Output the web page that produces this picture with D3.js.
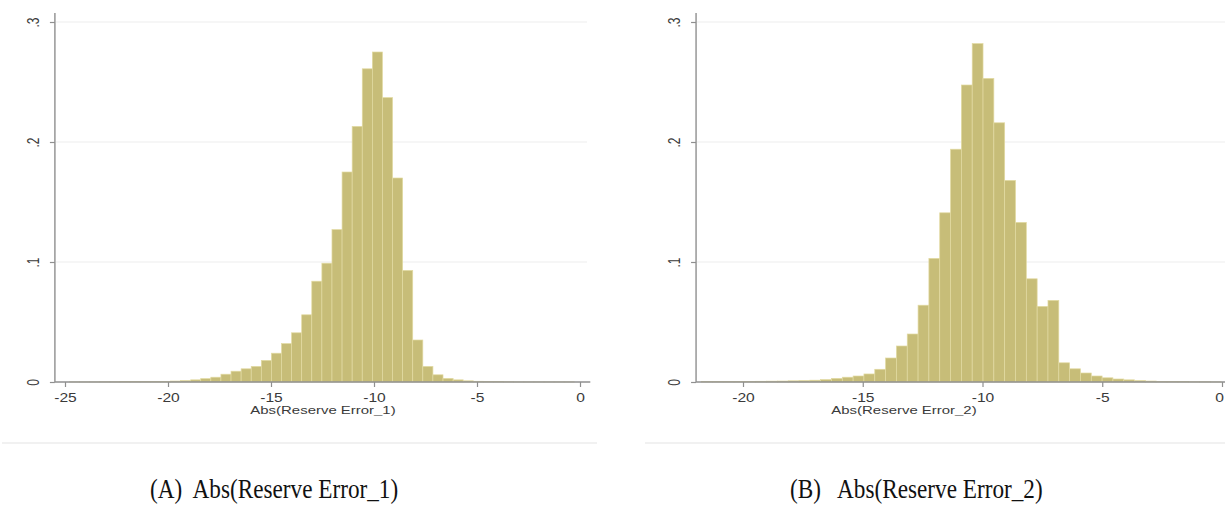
<!DOCTYPE html>
<html>
<head>
<meta charset="utf-8">
<script src="https://cdn.jsdelivr.net/npm/d3@7"></script>
<style>
  html, body { margin: 0; padding: 0; background: #ffffff; }
  svg { display: block; }
</style>
</head>
<body>
<svg id="chart" width="1225" height="514"></svg>
<script>
// ---------------- DATA ----------------
// Panel A: histogram of Abs(Reserve Error_1) — density per bin
const binStart1 = -24.78;
const binWidth1 = 0.49;
const density1 = [
  0.0001, 0.0001, 0.0001, 0.0002, 0.0002, 0.0003, 0.0003, 0.0004, 0.0005, 0.0005,
  0.0008, 0.0012, 0.0018, 0.0028, 0.0040, 0.0065, 0.0090, 0.0110, 0.0130, 0.0180,
  0.0240, 0.0320, 0.0410, 0.0560, 0.0840, 0.0990, 0.1270, 0.1750, 0.2130, 0.2610,
  0.2750, 0.2370, 0.1700, 0.0930, 0.0350, 0.0130, 0.0060, 0.0030, 0.0018, 0.0010,
  0.0006, 0.0004, 0.0003, 0.0002, 0.0001, 0.0001, 0.0001, 0.0001, 0.0001, 0.0001
];
// Panel B: histogram of Abs(Reserve Error_2) — density per bin
const binStart2 = -21.73;
const binWidth2 = 0.452;
const density2 = [
  0.0005, 0.0005, 0.0005, 0.0005, 0.0005, 0.0006, 0.0007, 0.0008, 0.0010, 0.0012,
  0.0015, 0.0020, 0.0030, 0.0040, 0.0050, 0.0067, 0.0106, 0.0200, 0.0300, 0.0400,
  0.0640, 0.1030, 0.1410, 0.1940, 0.2475, 0.2820, 0.2530, 0.2160, 0.1680, 0.1330,
  0.0860, 0.0630, 0.0680, 0.0160, 0.0110, 0.0075, 0.0050, 0.0035, 0.0025, 0.0018,
  0.0012, 0.0008, 0.0005, 0.0004, 0.0003, 0.0002, 0.0002, 0.0001
];
const yTicks = [0, 0.1, 0.2, 0.3];
const yTickLabels = ["0", ".1", ".2", ".3"];
const xTicks1 = [-25, -20, -15, -10, -5, 0];
const xTicks2 = [-20, -15, -10, -5, 0];
const xTitle1 = "Abs(Reserve Error_1)";
const xTitle2 = "Abs(Reserve Error_2)";
const caption1 = "(A)  Abs(Reserve Error_1)";
const caption2 = "(B)   Abs(Reserve Error_2)";

// ---------------- DRAW ----------------
const svg = d3.select("#chart");
const barFill = "#c7bd78";
const barStroke = "#e2daa2";
const axisColor = "#8f8f8f";
const textColor = "#3a3a3a";
const stretch = 1.3;

function panel(cfg) {
  const x = d3.scaleLinear().domain(cfg.xDomain).range(cfg.xRange);
  const y = d3.scaleLinear().domain([0, 0.3]).range([382, 22]);
  const g = svg.append("g");

  // grid lines
  g.append("g").selectAll("line").data(yTicks.slice(1)).join("line")
    .attr("x1", x(cfg.axisFrom) + 1).attr("x2", cfg.gridEnd)
    .attr("y1", d => y(d)).attr("y2", d => y(d))
    .attr("stroke", "#ededed").attr("stroke-width", 1);

  // bars
  const bins = cfg.density.map((d, i) => ({
    x0: cfg.binStart + i * cfg.binWidth,
    x1: cfg.binStart + (i + 1) * cfg.binWidth,
    v: d
  }));
  g.append("g").selectAll("rect").data(bins).join("rect")
    .attr("x", d => x(d.x0))
    .attr("width", d => x(d.x1) - x(d.x0))
    .attr("y", d => y(d.v))
    .attr("height", d => y(0) - y(d.v))
    .attr("fill", barFill)
    .attr("stroke", barStroke)
    .attr("stroke-width", 0.7);

  // x axis
  const xa = g.append("g").attr("transform", `translate(0,${y(0)})`)
    .call(d3.axisBottom(x).tickValues(cfg.xTicks).tickSize(5).tickSizeOuter(0)
      .tickFormat(d => String(d)));
  xa.select(".domain").remove();
  xa.append("line").attr("x1", x(cfg.axisFrom)).attr("x2", x(cfg.axisTo))
    .attr("stroke", axisColor).attr("stroke-width", 1.4);
  xa.selectAll(".tick line").attr("stroke", axisColor).attr("stroke-width", 1.2);
  xa.selectAll(".tick text")
    .attr("y", 0).attr("dy", 0)
    .attr("transform", d => `translate(${cfg.clipLast && d === 0 ? -3 : 0},20) scale(${stretch},1)`)
    .attr("fill", textColor)
    .style("font-family", "'Liberation Sans', Arial, sans-serif")
    .style("font-size", "12px");

  // y axis
  const ya = g.append("g").attr("transform", `translate(${x(cfg.axisFrom)},0)`)
    .call(d3.axisLeft(y).tickValues(yTicks).tickSize(5).tickSizeOuter(0)
      .tickFormat((d, i) => yTickLabels[i]));
  ya.select(".domain").remove();
  ya.append("line").attr("y1", y(0)).attr("y2", y(0.3075))
    .attr("stroke", axisColor).attr("stroke-width", 1.4);
  ya.selectAll(".tick line").attr("stroke", axisColor).attr("stroke-width", 1.2);
  ya.selectAll(".tick text")
    .attr("x", 0).attr("dy", 0).attr("y", 0)
    .attr("text-anchor", "middle")
    .attr("transform", `translate(-16,0) scale(${stretch},1) rotate(-90)`)
    .attr("fill", textColor)
    .style("font-family", "'Liberation Sans', Arial, sans-serif")
    .style("font-size", "12px");

  // axis title
  g.append("text")
    .attr("transform", `translate(${cfg.titleX},414) scale(${stretch},1)`)
    .attr("text-anchor", "middle")
    .attr("fill", textColor)
    .style("font-family", "'Liberation Sans', Arial, sans-serif")
    .style("font-size", "11.5px")
    .text(cfg.title);

  // faint graph-region bottom border
  g.append("line").attr("x1", cfg.regionX0).attr("x2", cfg.regionX1)
    .attr("y1", 443).attr("y2", 443).attr("stroke", "#ececec").attr("stroke-width", 1.5);

  // caption
  svg.append("text")
    .attr("transform", `translate(${cfg.captionX},498) scale(0.86,1)`)
    .attr("fill", "#111")
    .style("font-family", "'Liberation Serif', 'Times New Roman', serif")
    .style("font-size", "27px")
    .style("white-space", "pre")
    .attr("xml:space", "preserve")
    .text(cfg.caption);
}

panel({
  density: density1, binStart: binStart1, binWidth: binWidth1,
  xDomain: [-25, 0], xRange: [65, 580], axisFrom: -25.49, axisTo: 0.5,
  gridEnd: 587, xTicks: xTicks1, title: xTitle1, titleX: 323,
  regionX0: 2, regionX1: 597, caption: caption1, captionX: 150, clipLast: false
});
panel({
  density: density2, binStart: binStart2, binWidth: binWidth2,
  xDomain: [-20, 0], xRange: [743, 1222], axisFrom: -21.96, axisTo: 0.3,
  gridEnd: 1225, xTicks: xTicks2, title: xTitle2, titleX: 904,
  regionX0: 645, regionX1: 1225, caption: caption2, captionX: 790, clipLast: true
});
</script>
</body>
</html>
